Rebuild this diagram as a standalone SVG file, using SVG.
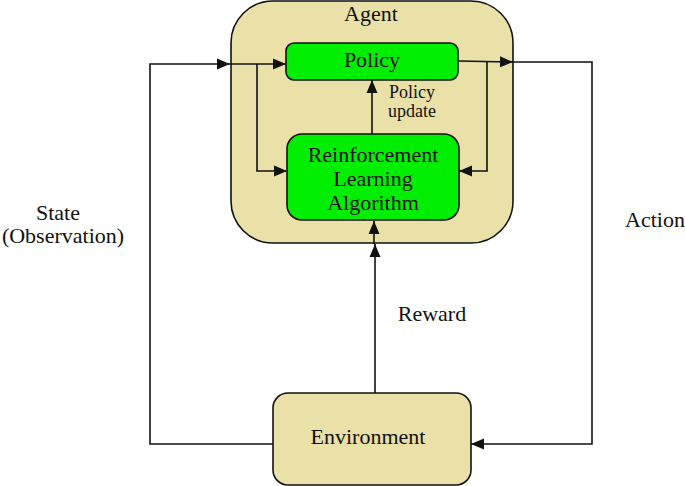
<svg xmlns="http://www.w3.org/2000/svg" width="685" height="486" viewBox="0 0 685 486">
<style>
.box{stroke:#111;stroke-width:1.6}
.khaki{fill:#E9E1A7}
.green{fill:#00EE00}
.t{font-family:"Liberation Serif","DejaVu Serif",serif;font-size:22px;fill:#111;text-anchor:middle}
.s{font-size:18px}
.c{fill:none;stroke:#111;stroke-width:1.6}
</style>
<defs>
<marker id="ah" markerUnits="userSpaceOnUse" markerWidth="14" markerHeight="12" refX="13" refY="6" orient="auto">
<path d="M0,0.5 L13,6 L0,11.5 Z" fill="#111"/>
</marker>
</defs>
<rect width="685" height="486" fill="#fff"/>
<g id="agent">
<rect class="box khaki" x="231" y="1" width="282" height="242" rx="42"/>
<text class="t" x="371" y="21">Agent</text>
</g>
<g id="policy">
<rect class="box green" x="286" y="43" width="172" height="37" rx="8"/>
<text class="t" x="372" y="67">Policy</text>
</g>
<g id="rl">
<rect class="box green" x="287" y="134" width="172" height="86" rx="15"/>
<text class="t" x="373" y="162">Reinforcement</text>
<text class="t" x="373" y="186">Learning</text>
<text class="t" x="373" y="210">Algorithm</text>
</g>
<g id="environment">
<rect class="box khaki" x="273" y="393" width="198" height="92" rx="15"/>
<text class="t" x="368" y="444">Environment</text>
</g>
<g id="connectors">
<path class="c" d="M273,444 H150 V64 H230" marker-end="url(#ah)"/>
<path class="c" d="M230,64 H286" marker-end="url(#ah)"/>
<path class="c" d="M257,64 V171 H287" marker-end="url(#ah)"/>
<path class="c" d="M458,61 L513,62" marker-end="url(#ah)"/>
<path class="c" d="M513,62 H592 V444 H471" marker-end="url(#ah)"/>
<path class="c" d="M487,62 V171 H459" marker-end="url(#ah)"/>
<path class="c" d="M372,134 V80" marker-end="url(#ah)"/>
<path class="c" d="M375,393 V244" marker-end="url(#ah)"/>
<path class="c" d="M374,244 V221" marker-end="url(#ah)"/>
</g>
<g id="labels">
<text class="t s" x="412" y="98">Policy</text>
<text class="t s" x="412" y="117">update</text>
<text class="t" x="432" y="321">Reward</text>
<text class="t" x="58" y="220">State</text>
<text class="t" x="63" y="243">(Observation)</text>
<text class="t" x="655" y="227">Action</text>
</g>
</svg>
